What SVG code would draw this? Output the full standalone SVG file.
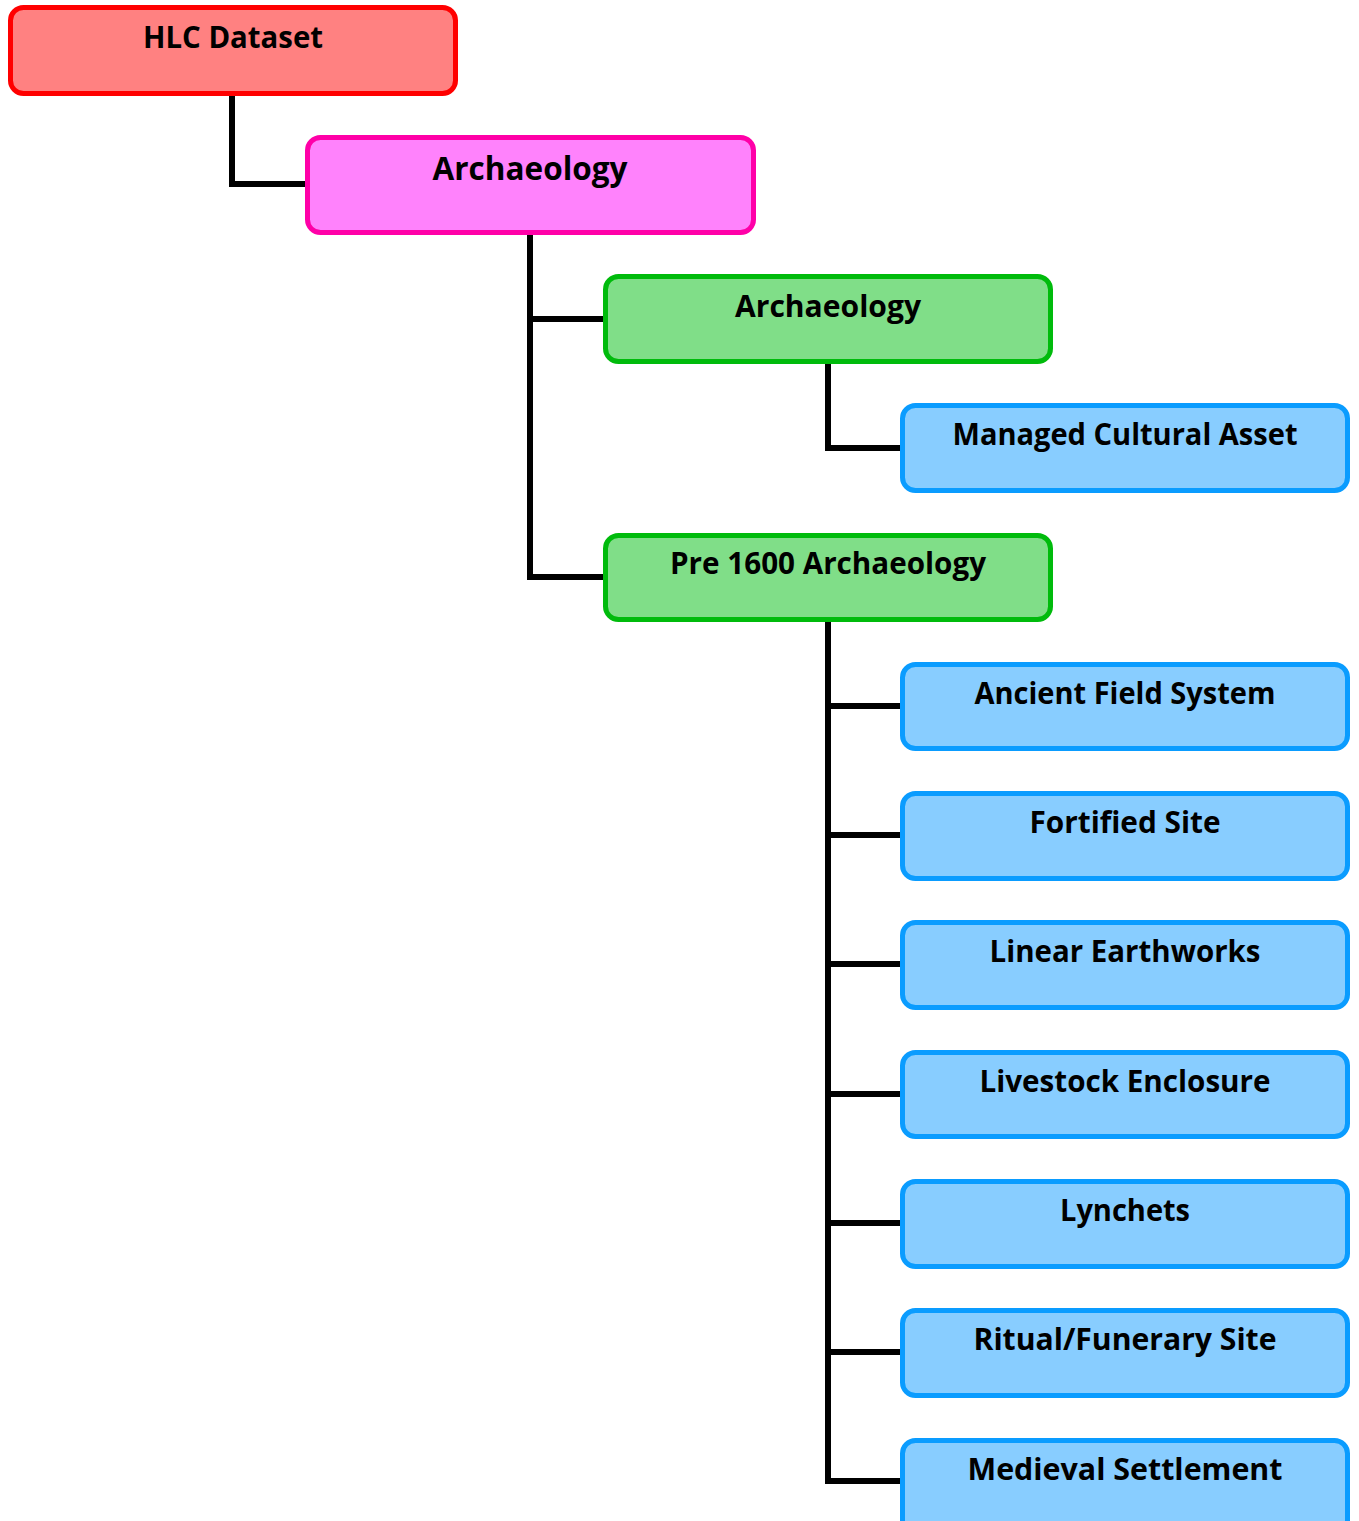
<svg xmlns="http://www.w3.org/2000/svg" width="1359" height="1521" viewBox="0 0 1359 1521">
  <style>
    .box { stroke-width: 5; }
    .red { fill: #ff8181; stroke: #ff0000; }
    .pink { fill: #ff82fc; stroke: #ff00a8; }
    .green { fill: #80de88; stroke: #00bb0c; }
    .blue { fill: #88cdff; stroke: #0a9cff; }
    .lbl { font-family: "Open Sans", "Noto Sans", "Liberation Sans", sans-serif; font-weight: 700; font-size: 30px; fill: #000; text-anchor: middle; }
    .big { font-size: 32px; }
    .conn { fill: none; stroke: #000; stroke-width: 6; stroke-linejoin: miter; stroke-linecap: butt; }
  </style>
  <rect width="1359" height="1521" fill="#ffffff"/>

  <!-- tree links -->
  <g id="connectors">
    <polyline class="conn" points="232,95 232,184 306,184"/>
    <polyline class="conn" points="530,234 530,319 604,319"/>
    <polyline class="conn" points="530,319 530,577 604,577"/>
    <polyline class="conn" points="828,363 828,448 902,448"/>
    <polyline class="conn" points="828,621 828,1481 902,1481"/>
    <line class="conn" x1="828" y1="706" x2="902" y2="706"/>
    <line class="conn" x1="828" y1="835" x2="902" y2="835"/>
    <line class="conn" x1="828" y1="964" x2="902" y2="964"/>
    <line class="conn" x1="828" y1="1094" x2="902" y2="1094"/>
    <line class="conn" x1="828" y1="1223" x2="902" y2="1223"/>
    <line class="conn" x1="828" y1="1352" x2="902" y2="1352"/>
  </g>

  <g id="hlc-dataset">
    <rect class="box red" x="10.5" y="7.5" width="445" height="86" rx="13"/>
    <text class="lbl" x="233" y="48" textLength="180" lengthAdjust="spacingAndGlyphs">HLC Dataset</text>
  </g>
  <g id="archaeology-top">
    <rect class="box pink" x="307.5" y="137.5" width="446" height="95" rx="13"/>
    <text class="lbl big" x="530" y="180" textLength="195" lengthAdjust="spacingAndGlyphs">Archaeology</text>
  </g>
  <g id="archaeology">
    <rect class="box green" x="605.5" y="276.5" width="445" height="85" rx="13"/>
    <text class="lbl" x="828" y="317" textLength="186" lengthAdjust="spacingAndGlyphs">Archaeology</text>
  </g>
  <g id="managed-cultural-asset">
    <rect class="box blue" x="902.5" y="405.5" width="445" height="85" rx="13"/>
    <text class="lbl" x="1125" y="445" textLength="345" lengthAdjust="spacingAndGlyphs">Managed Cultural Asset</text>
  </g>
  <g id="pre-1600-archaeology">
    <rect class="box green" x="605.5" y="535.5" width="445" height="84" rx="13"/>
    <text class="lbl" x="828" y="574" textLength="316" lengthAdjust="spacingAndGlyphs">Pre 1600 Archaeology</text>
  </g>
  <g id="ancient-field-system">
    <rect class="box blue" x="902.5" y="664.5" width="445" height="84" rx="13"/>
    <text class="lbl" x="1125" y="704" textLength="301" lengthAdjust="spacingAndGlyphs">Ancient Field System</text>
  </g>
  <g id="fortified-site">
    <rect class="box blue" x="902.5" y="793.5" width="445" height="85" rx="13"/>
    <text class="lbl" x="1125" y="833" textLength="191" lengthAdjust="spacingAndGlyphs">Fortified Site</text>
  </g>
  <g id="linear-earthworks">
    <rect class="box blue" x="902.5" y="922.5" width="445" height="85" rx="13"/>
    <text class="lbl" x="1125" y="962" textLength="271" lengthAdjust="spacingAndGlyphs">Linear Earthworks</text>
  </g>
  <g id="livestock-enclosure">
    <rect class="box blue" x="902.5" y="1052.5" width="445" height="84" rx="13"/>
    <text class="lbl" x="1125" y="1092" textLength="291" lengthAdjust="spacingAndGlyphs">Livestock Enclosure</text>
  </g>
  <g id="lynchets">
    <rect class="box blue" x="902.5" y="1181.5" width="445" height="85" rx="13"/>
    <text class="lbl" x="1125" y="1221" textLength="130" lengthAdjust="spacingAndGlyphs">Lynchets</text>
  </g>
  <g id="ritual-funerary-site">
    <rect class="box blue" x="902.5" y="1310.5" width="445" height="85" rx="13"/>
    <text class="lbl" x="1125" y="1350" textLength="303" lengthAdjust="spacingAndGlyphs">Ritual/Funerary Site</text>
  </g>
  <g id="medieval-settlement">
    <rect class="box blue" x="902.5" y="1440.5" width="445" height="95" rx="13"/>
    <text class="lbl" x="1125" y="1480" textLength="315" lengthAdjust="spacingAndGlyphs">Medieval Settlement</text>
  </g>
</svg>
